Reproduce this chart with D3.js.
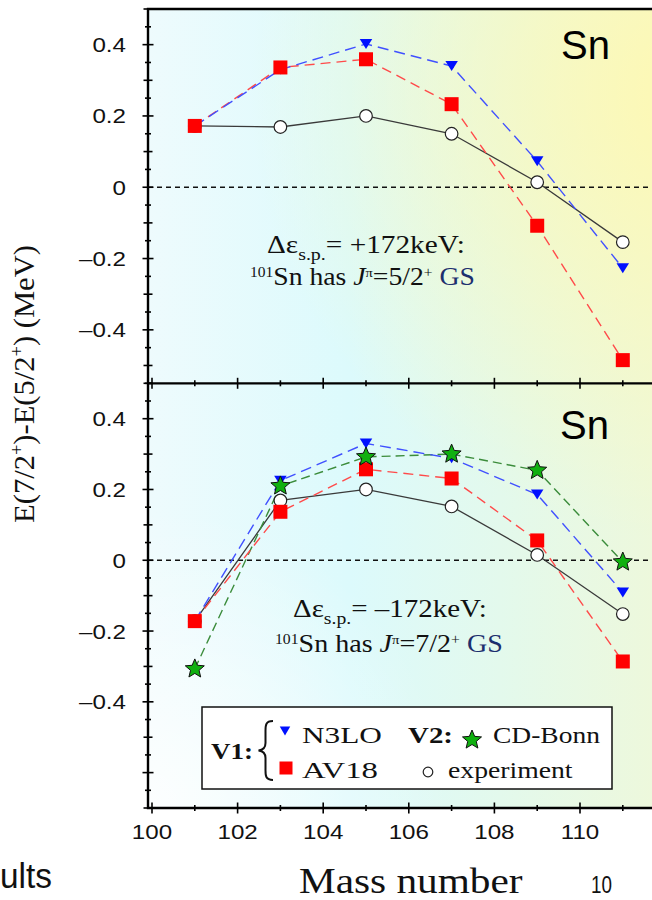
<!DOCTYPE html>
<html>
<head>
<meta charset="utf-8">
<script src="https://cdn.jsdelivr.net/npm/d3@7"></script>
<style>
  body { margin: 0; background: #fff; }
  svg { display: block; }
</style>
</head>
<body>
<div id="chart"></div>
<script>
// mass numbers of the Sn isotopes
var massNumbers = [101, 103, 105, 107, 109, 111];

// upper panel: delta e(s.p.) = +172 keV
var topN3LO = [0.172, 0.330, 0.402, 0.340, 0.073, -0.227];
var topAV18 = [0.172, 0.336, 0.359, 0.233, -0.108, -0.485];
var topExp  = [0.172, 0.169, 0.200, 0.150, 0.014, -0.154];

// lower panel: delta e(s.p.) = -172 keV
var botN3LO   = [-0.172, 0.225, 0.330, 0.288, 0.186, -0.091];
var botAV18   = [-0.172, 0.137, 0.257, 0.231, 0.056, -0.286];
var botCDBonn = [-0.307, 0.210, 0.292, 0.300, 0.254, -0.005];
var botExp    = [-0.172, 0.169, 0.200, 0.152, 0.015, -0.152];

var xTickLabels = [100, 102, 104, 106, 108, 110];
var yTickLabels = [-0.4, -0.2, 0, 0.2, 0.4];

var W = 652, H = 900;
var sans = "'Liberation Sans', Arial, Helvetica, sans-serif";
var serif = "'Liberation Serif', 'Times New Roman', serif";

var svg = d3.select("#chart").append("svg")
  .attr("width", W)
  .attr("height", H);

// frame
var fL = 148, fT = 9, fM = 383.3, fB = 808, fR = 662;

var x = d3.scaleLinear().domain([100, 112]).range([152, 665.6]);
var yTop = d3.scaleLinear().domain([-0.55, 0.5]).range([fM, fT]);
var yBot = d3.scaleLinear().domain([-0.7, 0.5]).range([fB, fM]);

// background: horizontal cyan/green base, yellow glow top right, white glow bottom left
var defs = svg.append("defs");
var grad = defs.append("linearGradient")
  .attr("id", "bg")
  .attr("gradientUnits", "userSpaceOnUse")
  .attr("x1", 148).attr("y1", 0)
  .attr("x2", 652).attr("y2", 0);
[[0, "#eefbfd"], [0.4, "#dcfafc"], [0.7, "#e3f9ec"], [1, "#edf8dc"]]
  .forEach(function (s) {
    grad.append("stop").attr("offset", s[0]).attr("stop-color", s[1]);
  });
var glow = defs.append("radialGradient")
  .attr("id", "yellowGlow")
  .attr("gradientUnits", "userSpaceOnUse")
  .attr("cx", 700).attr("cy", 90).attr("r", 450);
glow.append("stop").attr("offset", 0).attr("stop-color", "#fff8b0").attr("stop-opacity", 0.95);
glow.append("stop").attr("offset", 1).attr("stop-color", "#fff8b0").attr("stop-opacity", 0);
var white = defs.append("radialGradient")
  .attr("id", "whiteGlow")
  .attr("gradientUnits", "userSpaceOnUse")
  .attr("cx", 148).attr("cy", 808).attr("r", 300);
white.append("stop").attr("offset", 0).attr("stop-color", "#ffffff").attr("stop-opacity", 0.85);
white.append("stop").attr("offset", 1).attr("stop-color", "#ffffff").attr("stop-opacity", 0);

["url(#bg)", "url(#yellowGlow)", "url(#whiteGlow)"].forEach(function (f) {
  svg.append("rect")
    .attr("x", fL).attr("y", fT)
    .attr("width", fR - fL).attr("height", fB - fT)
    .attr("fill", f);
});

// helper: text stretched horizontally to a measured width
function fitText(parent, px, py, width, build, rotate) {
  var g = parent.append("g");
  var t = g.append("text");
  build(t);
  var w = t.node().getBBox().width;
  var k = width / w;
  g.attr("transform", "translate(" + px + "," + py + ")" + (rotate ? " rotate(" + rotate + ")" : "") + " scale(" + k + ",1)");
  return g;
}

// helper: text with a fixed horizontal stretch
function stretchText(parent, px, py, k, build) {
  var g = parent.append("g")
    .attr("transform", "translate(" + px + "," + py + ") scale(" + k + ",1)");
  build(g.append("text"));
  return g;
}

function fmt(v) {
  if (Math.abs(v) < 1e-9) return "0";
  return (v < 0 ? "\u2013" : "") + Math.abs(v).toFixed(1);
}

// panels
var panels = [
  { y: yTop, lo: -0.55, hi: 0.5,
    series: [
      { values: topExp, color: "#3a3a3a", dash: null, marker: "circle" },
      { values: topAV18, color: "#ff4a4a", dash: "10,6", marker: "square" },
      { values: topN3LO, color: "#4050ff", dash: "11,6", marker: "triangle" }
    ],
    sn: [561, 59],
    note: { x1: 267, y1: 253, w1: 198, x2: 250, y2: 285, w2: 225, sign: "+", spin: "5/2" } },
  { y: yBot, lo: -0.7, hi: 0.5,
    series: [
      { values: botExp, color: "#3a3a3a", dash: null, marker: "circle" },
      { values: botCDBonn, color: "#3b8c3b", dash: "9,5", marker: "star" },
      { values: botAV18, color: "#ff4a4a", dash: "10,6", marker: "square" },
      { values: botN3LO, color: "#4050ff", dash: "11,6", marker: "triangle" }
    ],
    sn: [560, 439],
    note: { x1: 293, y1: 617, w1: 194, x2: 275, y2: 652, w2: 228, sign: "\u2013", spin: "7/2" } }
];

function triPath(cx, cy, w, h) {
  return "M" + (cx - w / 2) + "," + (cy - h / 2) + "L" + (cx + w / 2) + "," + (cy - h / 2) + "L" + cx + "," + (cy + h / 2) + "Z";
}
function starPath(cx, cy, R) {
  var r = R * 0.45, pts = [];
  for (var i = 0; i < 10; i++) {
    var a = -Math.PI / 2 + i * Math.PI / 5;
    var rr = i % 2 ? r : R;
    pts.push([cx + rr * Math.cos(a), cy + rr * Math.sin(a)]);
  }
  return "M" + pts.map(function (p) { return p.join(","); }).join("L") + "Z";
}

function drawMarker(g, type, cx, cy, big) {
  if (type === "circle") {
    g.append("circle").attr("cx", cx).attr("cy", cy).attr("r", big ? 6.3 : 4.8)
      .attr("fill", "#fff").attr("stroke", "#222").attr("stroke-width", 1.2);
  } else if (type === "square") {
    var s = big ? 14 : 13;
    g.append("rect").attr("x", cx - s / 2).attr("y", cy - s / 2).attr("width", s).attr("height", s)
      .attr("fill", "#ff0000");
  } else if (type === "triangle") {
    g.append("path").attr("d", big ? triPath(cx, cy, 12.5, 10) : triPath(cx, cy, 10.5, 9))
      .attr("fill", "#0010ff");
  } else if (type === "star") {
    g.append("path").attr("d", starPath(cx, cy, 10))
      .attr("fill", "#10b010").attr("stroke", "#111").attr("stroke-width", 1);
  }
}

var markerOrder = ["circle", "triangle", "square", "star"];

panels.forEach(function (p) {
  var y = p.y;
  var g = svg.append("g");

  // zero line
  g.append("line")
    .attr("x1", fL).attr("x2", W)
    .attr("y1", y(0)).attr("y2", y(0))
    .attr("stroke", "#111").attr("stroke-width", 1.3)
    .attr("stroke-dasharray", "5,4");

  // connecting lines
  p.series.forEach(function (s) {
    var line = d3.line()
      .x(function (d, i) { return x(massNumbers[i]); })
      .y(function (d) { return y(d); });
    g.append("path")
      .attr("d", line(s.values))
      .attr("fill", "none")
      .attr("stroke", s.color)
      .attr("stroke-width", s.dash ? 1.4 : 1.3)
      .attr("stroke-dasharray", s.dash);
  });

  // markers
  markerOrder.forEach(function (m) {
    p.series.filter(function (s) { return s.marker === m; }).forEach(function (s) {
      s.values.forEach(function (v, i) {
        drawMarker(g, m, x(massNumbers[i]), y(v), true);
      });
    });
  });

  // y ticks every 0.05
  var n = Math.round((p.hi - p.lo) / 0.05);
  d3.range(n + 1).forEach(function (i) {
    var v = Math.round((p.lo + i * 0.05) * 100) / 100;
    var k = Math.round(v * 100);
    var half = (k % 20 === 0) ? 5.5 : (k % 10 === 0 ? 4.5 : 3);
    g.append("line")
      .attr("x1", fL - half).attr("x2", fL + half)
      .attr("y1", y(v)).attr("y2", y(v))
      .attr("stroke", "#000").attr("stroke-width", 1.6);
  });

  // y tick labels
  yTickLabels.forEach(function (v) {
    stretchText(g, 126, y(v) + 7.5, 1.15, function (t) {
      t.text(fmt(v))
        .attr("font-family", sans)
        .attr("font-size", 21)
        .attr("text-anchor", "end")
        .attr("fill", "#111");
    });
  });

  // "Sn"
  fitText(g, p.sn[0], p.sn[1], 49, function (t) {
    t.text("Sn").attr("font-family", sans).attr("font-size", 40).attr("fill", "#000");
  });

  // annotation
  var nt = p.note;
  fitText(g, nt.x1, nt.y1, nt.w1, function (t) {
    t.attr("font-family", serif).attr("font-size", 25).attr("fill", "#111");
    t.append("tspan").text("\u0394\u03b5");
    t.append("tspan").text("s.p.").attr("font-size", 17).attr("dy", 7);
    t.append("tspan").text("= " + nt.sign + "172keV:").attr("dy", -7);
  });
  fitText(g, nt.x2, nt.y2, nt.w2, function (t) {
    t.attr("font-family", serif).attr("font-size", 25).attr("fill", "#111");
    t.append("tspan").text("101").attr("font-size", 14).attr("dy", -8);
    t.append("tspan").text("Sn has ").attr("dy", 8);
    t.append("tspan").text("J").attr("font-style", "italic");
    t.append("tspan").text("\u03c0").attr("font-size", 13).attr("dy", -8);
    t.append("tspan").text("=" + nt.spin).attr("dy", 8);
    t.append("tspan").text("+").attr("font-size", 14).attr("dy", -8);
    t.append("tspan").text(" GS").attr("dy", 8).attr("fill", "#1c2f6e");
  });
});

// x ticks on divider and bottom
d3.range(100, 112).forEach(function (m) {
  var half = m % 2 === 0 ? 5.5 : 3;
  [fM, fB].forEach(function (yy) {
    svg.append("line")
      .attr("x1", x(m)).attr("x2", x(m))
      .attr("y1", yy - half).attr("y2", yy + half)
      .attr("stroke", "#000").attr("stroke-width", 1.6);
  });
});

// x tick labels
xTickLabels.forEach(function (m) {
  stretchText(svg, x(m), 839, 1.15, function (t) {
    t.text(m)
      .attr("font-family", sans).attr("font-size", 21)
      .attr("text-anchor", "middle").attr("fill", "#111");
  });
});

// frame lines
svg.append("path")
  .attr("d", "M" + W + "," + fT + "H" + fL + "V" + fB + "H" + W)
  .attr("fill", "none").attr("stroke", "#000").attr("stroke-width", 2.4);
svg.append("line")
  .attr("x1", fL).attr("x2", W).attr("y1", fM).attr("y2", fM)
  .attr("stroke", "#000").attr("stroke-width", 2.2);

// legend
var lg = svg.append("g");
lg.append("rect")
  .attr("x", 202).attr("y", 707).attr("width", 410).attr("height", 82)
  .attr("fill", "#fff").attr("stroke", "#111").attr("stroke-width", 1.5);

function legendText(txt, px, py, w, bold) {
  fitText(lg, px, py, w, function (t) {
    t.text(txt).attr("font-family", serif).attr("font-size", 24)
      .attr("font-weight", bold ? "bold" : "normal").attr("fill", "#111");
  });
}
legendText("V1:", 211, 759, 42, true);
legendText("N3LO", 302, 743, 80);
legendText("AV18", 302, 778, 76);
legendText("V2:", 408, 743, 45, true);
legendText("CD-Bonn", 493, 743, 107);
legendText("experiment", 448, 778, 125);

lg.append("path")
  .attr("d", "M273,721 C265,721 265.5,726 265.5,732 L265.5,743 C265.5,748 263,750 258.5,750.5 C263,751 265.5,753 265.5,758 L265.5,769 C265.5,775 265,780 273,780")
  .attr("fill", "none").attr("stroke", "#111").attr("stroke-width", 2);

drawMarker(lg, "triangle", 285, 731, false);
drawMarker(lg, "square", 286, 768, false);
drawMarker(lg, "star", 472, 740, false);
drawMarker(lg, "circle", 428, 772, false);

// axis titles
fitText(svg, 34, 384, 278, function (t) {
  t.attr("font-family", serif).attr("font-size", 30).attr("text-anchor", "middle").attr("fill", "#111");
  t.append("tspan").text("E(7/2");
  t.append("tspan").text("+").attr("font-size", 18).attr("dy", -11);
  t.append("tspan").text(")-E(5/2").attr("dy", 11);
  t.append("tspan").text("+").attr("font-size", 18).attr("dy", -11);
  t.append("tspan").text(") (MeV)").attr("dy", 11);
}, -90);

fitText(svg, 299, 893, 224, function (t) {
  t.text("Mass number").attr("font-family", serif).attr("font-size", 35).attr("fill", "#111");
});
fitText(svg, 591, 893, 21, function (t) {
  t.text("10").attr("font-family", sans).attr("font-size", 24).attr("fill", "#111");
});
fitText(svg, 0, 888, 52, function (t) {
  t.text("ults").attr("font-family", sans).attr("font-size", 35).attr("fill", "#111");
});
</script>
</body>
</html>
